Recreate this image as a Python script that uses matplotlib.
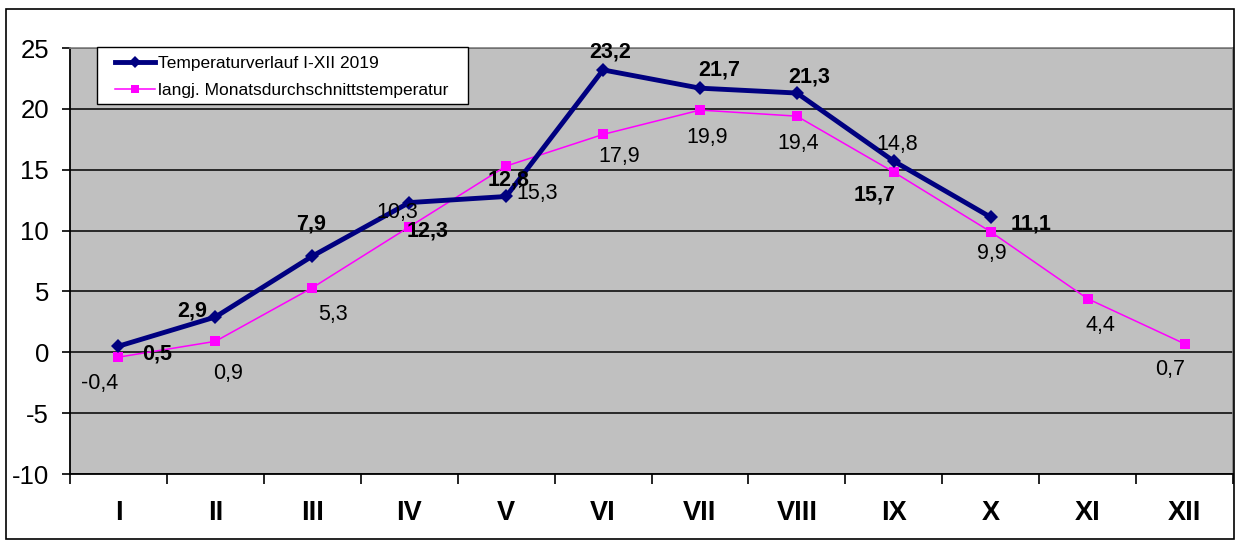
import matplotlib
matplotlib.use("Agg")
import matplotlib.pyplot as plt
from matplotlib.patches import Rectangle
from matplotlib.ticker import FixedLocator, NullFormatter

plt.rcParams['font.family'] = ['Liberation Sans', 'DejaVu Sans']

months = ['I', 'II', 'III', 'IV', 'V', 'VI', 'VII', 'VIII', 'IX', 'X', 'XI', 'XII']
temp_2019 = [0.5, 2.9, 7.9, 12.3, 12.8, 23.2, 21.7, 21.3, 15.7, 11.1]
temp_avg = [-0.4, 0.9, 5.3, 10.3, 15.3, 17.9, 19.9, 19.4, 14.8, 9.9, 4.4, 0.7]
label_2019 = 'Temperaturverlauf I-XII 2019'
label_avg = 'langj. Monatsdurchschnittstemperatur'
y_ticks = [-10, -5, 0, 5, 10, 15, 20, 25]

# label offsets in pixels (dx, dy-down) relative to points
off_2019 = [(39, 5), (-23, -8), (-1, -35), (18, 26), (2, -19), (7, -20),
            (19, -21), (12, -19), (-19, 31), (40, 4)]
off_avg = [(-19, 24), (13, 30), (21, 24), (-12, -17), (31, 25), (16, 20),
           (7, 25), (1, 25), (3, -30), (1, 19), (13, 24), (-14, 23)]

W, H = 1240, 540
fig = plt.figure(figsize=(W / 100, H / 100), dpi=100)
fig.patch.set_facecolor('white')
fig.patches.append(Rectangle((6 / W, 1 - 539 / H), (1234 - 6) / W, (539 - 9) / H,
                             transform=fig.transFigure, fill=False,
                             edgecolor='black', linewidth=1.2))

ax = fig.add_axes([70 / W, 1 - 474 / H, (1233 - 70) / W, (474 - 48) / H])
ax.set_facecolor('#C0C0C0')

x_all = list(range(len(months)))
x19 = x_all[:len(temp_2019)]

ax.plot(x_all, temp_avg, color='#FF00FF', lw=1.1, marker='s', ms=7.5,
        markeredgewidth=0, label=label_avg, zorder=3)
ax.plot(x19, temp_2019, color='#000080', lw=3.5, marker='D', ms=7,
        markeredgewidth=0, label=label_2019, zorder=4)

ax.set_xlim(-0.5, len(months) - 0.5)
ax.set_ylim(-10, 25)
ax.set_yticks(y_ticks)
ax.set_yticklabels([str(v) for v in y_ticks])
ax.yaxis.grid(True, color='black', lw=1.1)
ax.set_axisbelow(True)

ax.set_xticks(x_all)
ax.set_xticklabels(months, fontweight='bold', fontsize=19.5)
ax.xaxis.set_minor_locator(FixedLocator([i + 0.5 for i in range(-1, len(months))]))
ax.xaxis.set_minor_formatter(NullFormatter())
ax.tick_params(axis='x', which='major', length=0, pad=19)
ax.tick_params(axis='x', which='minor', length=7, width=1.2, color='black', direction='out')
ax.tick_params(axis='y', length=6, width=1.2, direction='out', pad=9, labelsize=18.5)

for s in ['left', 'bottom']:
    ax.spines[s].set_color('black')
    ax.spines[s].set_linewidth(1.3)
for s in ['top', 'right']:
    ax.spines[s].set_color('#808080')
    ax.spines[s].set_linewidth(1.2)

k = 0.72
for xi, v, (dx, dy) in zip(x19, temp_2019, off_2019):
    ax.annotate(f'{v:.1f}'.replace('.', ','), (xi, v), xytext=(dx * k, -dy * k),
                textcoords='offset points', ha='center', va='center_baseline',
                fontsize=15.5, fontweight='bold', color='black', zorder=6)
for xi, v, (dx, dy) in zip(x_all, temp_avg, off_avg):
    ax.annotate(f'{v:.1f}'.replace('.', ','), (xi, v), xytext=(dx * k, -dy * k),
                textcoords='offset points', ha='center', va='center_baseline',
                fontsize=15.5, color='black', zorder=6)

# legend frame
fig.patches.append(Rectangle((97 / W, 1 - 104 / H), (468 - 97) / W, (104 - 47) / H,
                             transform=fig.transFigure, facecolor='white',
                             edgecolor='black', linewidth=1.0, zorder=9))
handles, labels = ax.get_legend_handles_labels()
leg = fig.legend(handles[::-1], labels[::-1], loc='upper left',
                 bbox_to_anchor=(115 / W, 1 - 56 / H), borderaxespad=0,
                 fontsize=12.5, frameon=False, handlelength=2.3,
                 handletextpad=0.15, borderpad=0.0, labelspacing=0.68,
                 markerscale=0.85)
leg.set_zorder(10)

fig.savefig('out.png', dpi=100)
